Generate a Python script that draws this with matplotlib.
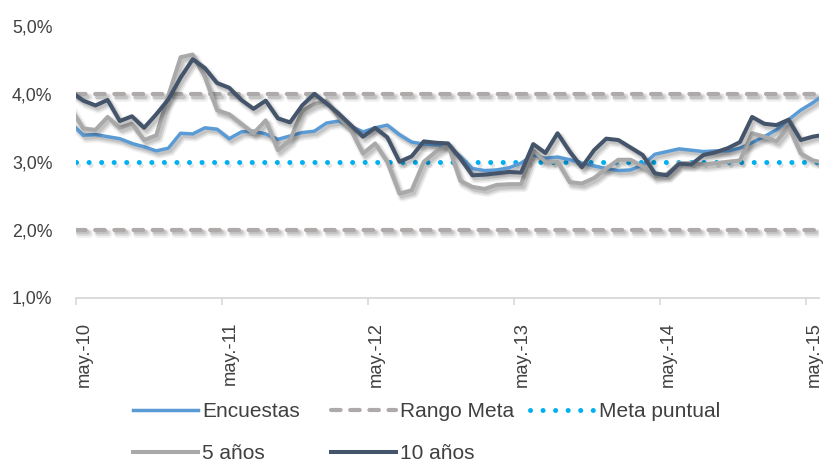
import matplotlib
matplotlib.use("Agg")
import matplotlib.pyplot as plt
import matplotlib.patheffects as pe
from matplotlib.lines import Line2D
from matplotlib.ticker import FixedLocator, FuncFormatter
import pandas as pd

# ---------------- data ----------------
month_labels = [p.strftime("%Y-%m") for p in pd.period_range("2010-04", "2015-06", freq="M")]

encuestas = [3.57, 3.39, 3.40, 3.37, 3.34, 3.27, 3.22, 3.16, 3.20, 3.42,
             3.41, 3.50, 3.48, 3.34, 3.44, 3.45, 3.41, 3.33, 3.38, 3.43,
             3.45, 3.57, 3.60, 3.52, 3.44, 3.50, 3.54, 3.40, 3.29, 3.26,
             3.25, 3.23, 3.08, 2.90, 2.87, 2.88, 2.91, 2.98, 3.10, 3.05,
             3.07, 3.03, 2.98, 2.94, 2.90, 2.87, 2.88, 2.95, 3.11, 3.15,
             3.19, 3.17, 3.15, 3.16, 3.16, 3.20, 3.28, 3.37, 3.47, 3.62,
             3.76, 3.87, 4.00]

cinco_anos = [3.77, 3.49, 3.47, 3.66, 3.50, 3.56, 3.32, 3.39, 3.98, 4.54,
              4.58, 4.25, 3.76, 3.70, 3.56, 3.42, 3.61, 3.17, 3.32, 3.75,
              3.85, 3.90, 3.66, 3.47, 3.12, 3.27, 3.00, 2.53, 2.58, 3.00,
              3.15, 3.25, 2.72, 2.63, 2.60, 2.66, 2.67, 2.67, 3.17, 3.00,
              3.00, 2.70, 2.68, 2.76, 2.90, 3.03, 3.03, 2.93, 2.78, 2.82,
              2.98, 2.98, 2.96, 2.98, 3.00, 3.02, 3.42, 3.37, 3.30, 3.52,
              3.12, 3.02, 2.98]

diez_anos = [4.03, 3.90, 3.83, 3.91, 3.60, 3.67, 3.50, 3.70, 3.92, 4.24,
             4.51, 4.38, 4.16, 4.09, 3.91, 3.78, 3.90, 3.64, 3.58, 3.83,
             4.00, 3.86, 3.71, 3.54, 3.37, 3.50, 3.36, 3.00, 3.08, 3.30,
             3.28, 3.27, 3.05, 2.80, 2.81, 2.83, 2.85, 2.84, 3.26, 3.13,
             3.42, 3.15, 2.92, 3.17, 3.34, 3.32, 3.21, 3.10, 2.83, 2.80,
             2.97, 2.96, 3.10, 3.14, 3.20, 3.29, 3.66, 3.56, 3.54, 3.62,
             3.32, 3.37, 3.40]

rango_meta = [2.0, 4.0]
meta_puntual = 3.0

tick_labels = ["may.-10", "may.-11", "may.-12", "may.-13", "may.-14", "may.-15"]
y_ticks = [1.0, 2.0, 3.0, 4.0, 5.0]

# ---------------- layout ----------------
W, H = 825, 467
fig = plt.figure(figsize=(W / 100, H / 100), dpi=100)
ax = fig.add_axes([76 / W, 1 - 297.5 / H, (818.5 - 76) / W, (297.5 - 26) / H])

FONT = ["Liberation Sans Narrow", "Liberation Sans", "DejaVu Sans"]
TXT = "#404040"

# x positions: months since may-10, data sit mid-month
def month_pos(lbl):
    y, m = map(int, lbl.split("-"))
    return (y - 2010) * 12 + (m - 5) + 0.6

x = [month_pos(m) for m in month_labels]
x_min, x_max = 0.0, 61.06


def shadow(lw):
    return [pe.SimpleLineShadow(offset=(2.0, -2.6), shadow_color="k", alpha=0.06,
                                linewidth=lw + 3.5),
            pe.SimpleLineShadow(offset=(2.0, -2.6), shadow_color="k", alpha=0.09,
                                linewidth=lw + 1.2),
            pe.SimpleLineShadow(offset=(1.6, -2.0), shadow_color="k", alpha=0.10),
            pe.Normal()]


c_enc = "#5B9BD5"
c_rng = "#AEAAAA"
c_meta = "#00B0F0"
c_5 = "#A9A9A9"
c_10 = "#44546A"

lw_enc, lw_rng, lw_meta, lw_5, lw_10 = 2.5, 3.0, 3.6, 2.9, 2.9
dash_rng = (0, (2.3, 2.3))
dot_meta = (0, (0.01, 2.5))

ax.plot(x, encuestas, color=c_enc, lw=lw_enc, solid_joinstyle="round",
        path_effects=shadow(lw_enc), zorder=3)
for v in rango_meta:
    ax.plot([x_min, x_max], [v, v], color=c_rng, lw=lw_rng,
            linestyle=dash_rng, dash_capstyle="round",
            path_effects=shadow(lw_rng), zorder=2)
ax.plot([x_min, x_max], [meta_puntual] * 2, color=c_meta, lw=lw_meta,
        linestyle=dot_meta, dash_capstyle="round",
        path_effects=[pe.SimpleLineShadow(offset=(1.6, -2.2), shadow_color="k", alpha=0.10),
                      pe.Normal()], zorder=2)
ax.plot(x, cinco_anos, color=c_5, lw=lw_5, solid_joinstyle="round",
        path_effects=shadow(lw_5), zorder=4)
ax.plot(x, diez_anos, color=c_10, lw=lw_10, solid_joinstyle="round",
        path_effects=shadow(lw_10), zorder=5)

ax.set_xlim(x_min, x_max)
ax.set_ylim(1.0, 5.0)

# axes styling
for s in ["top", "right", "left"]:
    ax.spines[s].set_visible(False)
ax.spines["bottom"].set_color("#D9D9D9")
ax.spines["bottom"].set_linewidth(1.3)

ax.yaxis.set_major_locator(FixedLocator(y_ticks))
ax.yaxis.set_major_formatter(FuncFormatter(lambda v, p: f"{v:.1f}".replace(".", ",") + "%"))
ax.tick_params(axis="y", length=0, pad=17, labelsize=12.8, labelcolor=TXT)
for t in ax.get_yticklabels():
    t.set_family(FONT)

ax.set_xticks([12 * i for i in range(len(tick_labels))])
ax.set_xticklabels(tick_labels, rotation=90, ha="left", va="top",
                   fontsize=13.2, color=TXT, family=FONT)
ax.tick_params(axis="x", direction="out", length=5, width=1.2, color="#D9D9D9", pad=12.5)

# legend: three columns placed individually
legend_cols = [
    (133, [(Line2D([], [], color=c_enc, lw=lw_enc), "Encuestas"),
           (Line2D([], [], color=c_5, lw=lw_5), "5 años")]),
    (331, [(Line2D([], [], color=c_rng, lw=lw_rng, linestyle=dash_rng,
                   dash_capstyle="round"), "Rango Meta"),
           (Line2D([], [], color=c_10, lw=lw_10), "10 años")]),
    (530, [(Line2D([], [], color=c_meta, lw=lw_meta, linestyle=dot_meta,
                   dash_capstyle="round"), "Meta puntual")]),
]
for x0, items in legend_cols:
    leg = fig.legend([h for h, _ in items], [l for _, l in items], loc="upper left",
                     bbox_to_anchor=(x0 / W, 1 - 402 / H), frameon=False,
                     handlelength=3.1, handletextpad=0.2, labelspacing=1.1,
                     borderpad=0, borderaxespad=0,
                     prop={"family": FONT, "size": 15})
    for t in leg.get_texts():
        t.set_color(TXT)

fig.savefig("out.png", dpi=100)
